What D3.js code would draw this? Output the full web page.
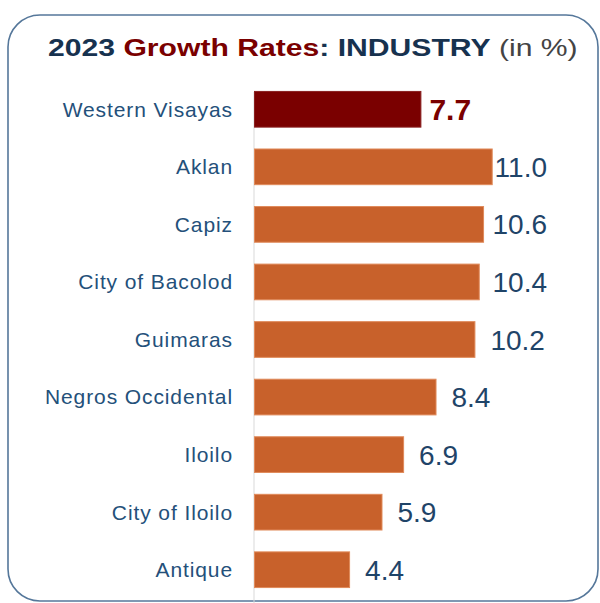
<!DOCTYPE html>
<meta charset="utf-8">
<style>
  body { margin: 0; background: #fff; }
  svg { display: block; font-family: "Liberation Sans", Arial, sans-serif; }
</style>
<body>
<script src="https://cdn.jsdelivr.net/npm/d3@7"></script>
<script>
  var regions = ["Western Visayas", "Aklan", "Capiz", "City of Bacolod", "Guimaras",
                 "Negros Occidental", "Iloilo", "City of Iloilo", "Antique"];
  var growth = [7.7, 11.0, 10.6, 10.4, 10.2, 8.4, 6.9, 5.9, 4.4];
  var highlight = "Western Visayas";

  var width = 600, height = 603;

  var svg = d3.select("body").append("svg")
    .attr("width", width)
    .attr("height", height);

  // frame
  svg.append("rect")
    .attr("x", 8).attr("y", 15)
    .attr("width", 590).attr("height", 586)
    .attr("rx", 32).attr("ry", 32)
    .style("fill", "none")
    .style("stroke", "#55779a")
    .style("stroke-width", 1.6);

  // title (stretched to the width it has in the original)
  var title = svg.append("text")
    .style("font-size", "23px")
    .style("font-weight", "bold");
  title.append("tspan").text("2023 ").style("fill", "#17324f");
  title.append("tspan").text("Growth Rates").style("fill", "#7a0000");
  title.append("tspan").text(": INDUSTRY").style("fill", "#17324f");
  title.append("tspan").text(" (in %)").style("fill", "#444")
    .style("font-weight", "normal");
  var tw = title.node().getComputedTextLength();
  title.attr("transform", "translate(48,56) scale(" + (530 / tw) + ",1)");

  var x = d3.scaleLinear().domain([0, 11]).range([254, 491.7]);
  var y = d3.scaleBand().domain(regions).range([80.5, 598.5]).paddingInner(0.38).paddingOuter(0.19);

  // axis line
  svg.append("line")
    .attr("x1", 254).attr("x2", 254)
    .attr("y1", 92).attr("y2", 603)
    .style("stroke", "#d9d9d9")
    .style("stroke-width", 1);

  var rows = svg.selectAll(".row")
    .data(regions)
    .enter().append("g")
    .attr("class", "row");

  rows.append("rect")
    .attr("x", x(0) + 0.5)
    .attr("y", function(d) { return y(d); })
    .attr("width", function(d, i) { return x(growth[i]) - x(0); })
    .attr("height", y.bandwidth())
    .style("fill", function(d) { return d === highlight ? "#7a0000" : "#c8612b"; })
    .style("stroke", function(d) { return d === highlight ? "#8a2020" : "#e08a5a"; })
    .style("stroke-width", 1);

  rows.append("text")
    .attr("x", 233)
    .attr("y", function(d) { return y(d) + y.bandwidth() / 2; })
    .attr("dy", "0.35em")
    .attr("text-anchor", "end")
    .style("font-size", "21px")
    .style("letter-spacing", "0.9px")
    .style("fill", "#24507a")
    .text(function(d) { return d; });

  // value labels, pulled back in when they would run past the plot edge
  rows.append("text")
    .attr("y", function(d) { return y(d) + y.bandwidth() / 2; })
    .attr("dy", "0.36em")
    .style("font-size", function(d) { return d === highlight ? "30px" : "28px"; })
    .style("font-weight", function(d) { return d === highlight ? "bold" : "normal"; })
    .style("fill", function(d) { return d === highlight ? "#7a0000" : "#1f4468"; })
    .text(function(d, i) { return growth[i].toFixed(1); })
    .attr("x", function(d, i) {
      var w = this.getComputedTextLength();
      var pos = x(growth[i]) + (d === highlight ? 9 : 16);
      return Math.min(pos, 547 - w);
    });
</script>
</body>
